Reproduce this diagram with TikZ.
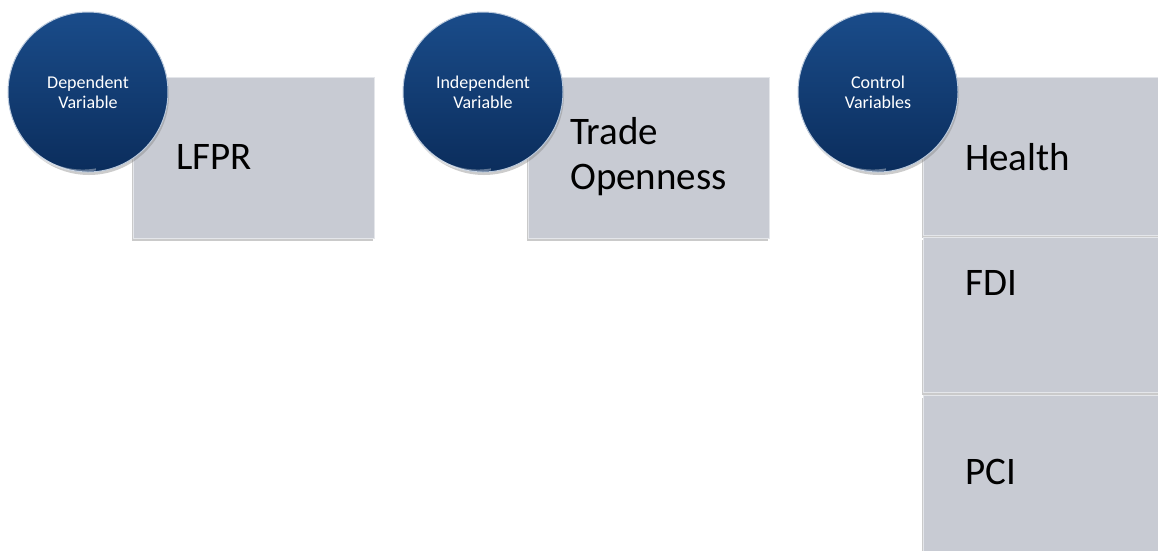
\documentclass[tikz,border=0pt]{standalone}
\usepackage{fontspec}
\setmainfont{Carlito}
\usetikzlibrary{shadows}
\definecolor{navyTop}{HTML}{1A4C8A}
\definecolor{navyBot}{HTML}{0B2D5C}
\definecolor{boxgray}{HTML}{C8CBD3}
\definecolor{boxedge}{HTML}{E4E6EA}
\tikzset{
  varbox/.style={draw=boxedge, line width=0.8pt, fill=boxgray, minimum width=241pt, anchor=north west, inner sep=0pt,
    drop shadow={opacity=0.35, shadow xshift=-1.5pt, shadow yshift=-2.5pt, fill=black!60}},
  bigtxt/.style={anchor=west, font=\fontsize{39}{45}\selectfont, align=left, inner sep=0pt, text=black},
  badge/.style={circle, minimum size=160pt, inner sep=0pt, top color=navyTop, bottom color=navyBot,
    draw=white!70!navyTop, line width=1pt,
    drop shadow={opacity=0.4, shadow xshift=1pt, shadow yshift=-3pt}},
  badgetxt/.style={text=white, font=\fontsize{18}{20}\selectfont, align=center, inner sep=0pt}
}
\begin{document}
\begin{tikzpicture}[x=1pt,y=-1pt]
\useasboundingbox (0,0) rectangle (1158,550);
% boxes
\node[varbox, minimum height=161pt] (b1) at (133,77) {};
\node[varbox, minimum height=161pt] (b2) at (528,77) {};
\node[varbox, minimum height=158pt] (b3) at (923,77) {};
\node[varbox, minimum height=155pt] (b4) at (923,237) {};
\node[varbox, minimum height=160pt] (b5) at (923,395) {};
% box texts
\node[bigtxt] (t1) at (176,157) {LFPR};
\node[bigtxt] (t2) at (570,157) {Trade\\Openness};
\node[bigtxt] (t3) at (965,157) {Health};
\node[bigtxt] (t4) at (965,283) {FDI};
\node[bigtxt] (t5) at (965,472) {PCI};
% badges
\node[badge] (c1) at (88,92) {};
\node[badge] (c2) at (483,92) {};
\node[badge] (c3) at (878,92) {};
\foreach \c in {c1,c2,c3}{
  \draw[white, opacity=0.35, line width=2pt] ([shift={(-1pt,-1pt)}]\c.200) arc[start angle=200, end angle=280, radius=76pt];
}
\node[badgetxt] (l1) at (c1) {Dependent\\Variable};
\node[badgetxt] (l2) at (c2) {Independent\\Variable};
\node[badgetxt] (l3) at (c3) {Control\\Variables};
\end{tikzpicture}
\end{document}
